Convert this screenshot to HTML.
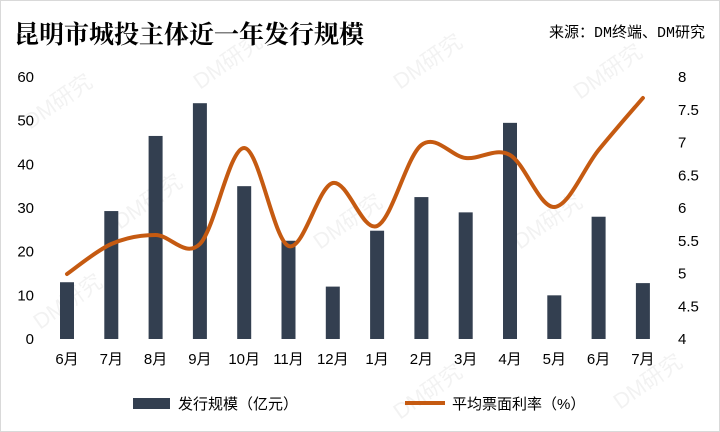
<!DOCTYPE html>
<html><head><meta charset="utf-8">
<style>
html,body{margin:0;padding:0;background:#fff;}
svg{display:block;font-family:"Liberation Sans","Noto Sans CJK SC",sans-serif;}
</style></head>
<body>
<svg id="c" width="720" height="432" viewBox="0 0 720 432" xmlns="http://www.w3.org/2000/svg">
<rect x="0.5" y="0.5" width="719" height="431" fill="#fff" stroke="#d9d9d9"/>
<g fill="#000" fill-opacity="0.05" font-size="22" font-family="Liberation Sans,Noto Sans CJK SC,sans-serif">
<text transform="translate(30,130) rotate(-35)">DM研究</text>
<text transform="translate(200,90) rotate(-35)">DM研究</text>
<text transform="translate(400,90) rotate(-35)">DM研究</text>
<text transform="translate(580,100) rotate(-35)">DM研究</text>
<text transform="translate(120,230) rotate(-35)">DM研究</text>
<text transform="translate(320,250) rotate(-35)">DM研究</text>
<text transform="translate(520,250) rotate(-35)">DM研究</text>
<text transform="translate(40,330) rotate(-35)">DM研究</text>
<text transform="translate(400,420) rotate(-35)">DM研究</text>
<text transform="translate(620,410) rotate(-35)">DM研究</text>
</g>
<text x="14" y="43" font-size="25" font-weight="bold" fill="#000" font-family="Liberation Serif,Noto Serif CJK SC,serif">昆明市城投主体近一年发行规模</text>
<text x="705" y="37" font-size="15" text-anchor="end" fill="#000" font-family="Liberation Mono,Noto Sans CJK SC,monospace">来源：DM终端、DM研究</text>
<g id="bars" fill="#333f50"></g>
<g id="ticks" font-size="15" fill="#000"></g>
<path id="line" fill="none" stroke="#c55a11" stroke-width="4" stroke-linecap="round"/>
<rect x="133" y="398" width="37" height="11" fill="#333f50"/>
<text x="178" y="409" font-size="15">发行规模（亿元）</text>
<line x1="405" y1="403" x2="445" y2="403" stroke="#c55a11" stroke-width="4"/>
<text x="452" y="409" font-size="15">平均票面利率（%）</text>
</svg>
<script>
var NS="http://www.w3.org/2000/svg";
var xs=[],labels=["6月","7月","8月","9月","10月","11月","12月","1月","2月","3月","4月","5月","6月","7月"];
for(var i=0;i<14;i++)xs.push(67+i*44.3);
var vals=[13,29.3,46.5,54,35,22.5,12,24.8,32.5,29,49.5,10,28,12.8];
var y0=339,k=262/60;
var b=document.getElementById("bars"),t=document.getElementById("ticks");
function el(n,a,p,txt){var e=document.createElementNS(NS,n);for(var q in a)e.setAttribute(q,a[q]);if(txt)e.textContent=txt;p.appendChild(e);return e;}
vals.forEach(function(v,i){el("rect",{x:xs[i]-7,y:y0-v*k,width:14,height:v*k},b);
el("text",{x:xs[i],y:364,"text-anchor":"middle"},t,labels[i]);});
for(var j=0;j<=6;j++)el("text",{x:34,y:y0-j*10*k+5,"text-anchor":"end"},t,String(j*10));
var rl=["4","4.5","5","5.5","6","6.5","7","7.5","8"];
for(var j=0;j<9;j++)el("text",{x:678,y:y0-j*32.75+5},t,rl[j]);
var ly=[274,244,235,244,148,246,183,226,145,158,155,207,150,98];
var P=xs.map(function(x,i){return [x,ly[i]];});
var d="M"+P[0][0]+","+P[0][1];
for(var i=0;i<P.length-1;i++){var p0=P[i-1]||P[i],p1=P[i],p2=P[i+1],p3=P[i+2]||P[i+1],s=6;
d+=" C"+(p1[0]+(p2[0]-p0[0])/s)+","+(p1[1]+(p2[1]-p0[1])/s)+" "+(p2[0]-(p3[0]-p1[0])/s)+","+(p2[1]-(p3[1]-p1[1])/s)+" "+p2[0]+","+p2[1];}
document.getElementById("line").setAttribute("d",d);
</script>
</body></html>
